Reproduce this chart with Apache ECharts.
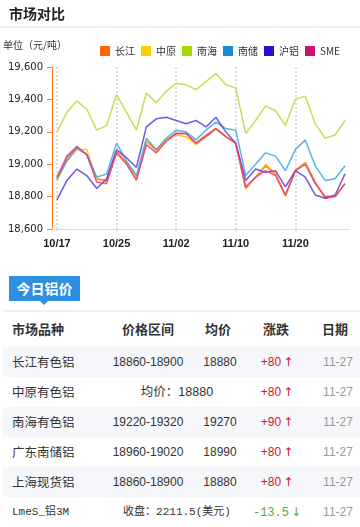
<!DOCTYPE html>
<html>
<head>
<meta charset="utf-8">
<script src="https://cdn.jsdelivr.net/npm/echarts@6/dist/echarts.min.js"></script>
<style>
html,body{margin:0;padding:0;background:#fff;}
#wrap{position:relative;width:360px;height:527px;overflow:hidden;background:#fff;font-family:"Noto Sans CJK SC",sans-serif;}
#chart{position:absolute;left:0;top:0;width:360px;height:268px;}
.abs{position:absolute;white-space:nowrap;}
.c{transform:translateX(-50%);}
</style>
</head>
<body>
<div id="wrap">
  <div id="chart"></div>
  <div id="table"></div>
</div>
<script>
// ---- chart data ----
const dates = ['10/17','10/18','10/19','10/20','10/23','10/24','10/25','10/26','10/27','10/30','10/31','11/01','11/02','11/03','11/06','11/07','11/08','11/09','11/10','11/13','11/14','11/15','11/16','11/17','11/20','11/21','11/22','11/23','11/24','11/27'];
const seriesNames = ['长江','中原','南海','南储','沪铝','SME'];
const changjiang = [18910,19040,19100,19060,18910,18900,19080,19010,18910,19140,19090,19150,19190,19190,19130,19180,19220,19170,19130,18850,18920,18990,18940,18810,18960,19010,18890,18790,18800,18880];
const zhongyuan  = [18900,19020,19090,19090,18910,18890,19080,19010,18910,19140,19080,19150,19180,19170,19120,19170,19220,19170,19130,18850,18920,19000,18940,18800,18960,19010,18880,18800,18800,18880];
const nanhai     = [19200,19320,19390,19340,19210,19240,19430,19320,19210,19440,19380,19450,19500,19490,19460,19510,19560,19490,19470,19190,19270,19360,19330,19240,19400,19420,19250,19160,19180,19270];
const nanchu     = [18910,19020,19100,19060,18920,18940,19130,19020,18930,19160,19090,19160,19210,19200,19150,19210,19260,19220,19210,18930,19000,19070,19050,18960,19090,19150,18990,18900,18910,18990];
const hulv       = [18780,18900,18970,18930,18850,18910,19090,19040,18980,19230,19280,19290,19270,19250,19270,19230,19290,19200,19130,18900,18970,18950,18960,18860,18960,18920,18810,18790,18810,18940];
const sme        = [18920,19050,19110,19060,18890,18880,19070,19000,18900,19120,19070,19140,19190,19190,19130,19170,19220,19170,19130,18860,18920,18960,18930,18810,18960,19000,18880,18800,18800,18880];
const yTicks = [18600,18800,19000,19200,19400,19600];

// ---- table data ----
const headers = ['市场品种','价格区间','均价','涨跌','日期'];
const markets = ['长江有色铝','中原有色铝','南海有色铝','广东南储铝','上海现货铝','LmeS_铝3M'];
const ranges  = ['18860-18900','均价：18880','19220-19320','18960-19020','18860-18900','收盘：2211.5(美元)'];
const avgs    = ['18880','','19270','18990','18880',''];
const changes = ['+80','+80','+90','+80','+80','-13.5'];
const dirs    = ['up','up','up','up','up','down'];
const tdates  = ['11-27','11-27','11-27','11-27','11-27','11-27'];

const legendColors = ['#ff6600','#ffcc00','#a8d800','#1a8ad6','#2a10d0','#cc1170'];
const lineColors   = ['#ff4a1a','#ffc000','#b4dc36','#3aa6e6','#5a3ae0','#e23a86'];
const allData = [changjiang, zhongyuan, nanhai, nanchu, hulv, sme];

const chart = echarts.init(document.getElementById('chart'));
const H = 268;
chart.setOption({
  animation:false,
  title:{text:'市场对比', left:4, top:2, textStyle:{fontSize:14, fontWeight:'bold', color:'#222', fontFamily:'Noto Sans CJK SC'}},
  graphic:[
    {type:'rect', shape:{x:0,y:26,width:360,height:1.5}, style:{fill:'#eeeeee'}},
    {type:'text', left:3, top:40, style:{text:'单位（元/吨）', fontSize:10, fill:'#333', fontFamily:'Noto Sans CJK SC'}}
  ],
  legend:{data:seriesNames, left:95, top:41, icon:'rect', itemWidth:10, itemHeight:10, itemGap:6,
    textStyle:{fontSize:10, color:'#333', fontFamily:'Noto Sans CJK SC'}},
  grid:{left:52, right:10, top:67, bottom:H-229},
  xAxis:{type:'category', data:dates, boundaryGap:true,
    axisLine:{lineStyle:{color:'#dddddd', width:1}},
    axisTick:{show:true, alignWithLabel:true, interval:5, length:4, lineStyle:{color:'#dddddd', type:'dotted', width:2}},
    axisLabel:{interval:5, margin:9, color:'#222', fontSize:11, fontWeight:'bold', fontFamily:'Liberation Sans'},
    splitLine:{show:true, interval:5, alignWithLabel:true, lineStyle:{color:'#dddddd', type:'dotted', width:2}}
  },
  yAxis:{type:'value', min:yTicks[0], max:yTicks[yTicks.length-1], interval:200,
    axisLine:{show:true, lineStyle:{color:'#ff7a1a'}},
    axisTick:{show:true, length:5, lineStyle:{color:'#ff7a1a'}},
    splitLine:{show:false},
    axisLabel:{margin:9, color:'#222', fontSize:10, fontFamily:'DejaVu Sans', formatter:v=>v.toLocaleString('en-US')}
  },
  series: seriesNames.map((n,i)=>({
    name:n, type:'line', data:allData[i], symbol:'none', smooth:false,
    itemStyle:{color:legendColors[i]},
    lineStyle:{color:lineColors[i], width:1.5, opacity:0.85}
  }))
});

// ---- table ----
const t = document.getElementById('table');
let html = '';
html += '<div class="abs" style="left:9px;top:276px;width:71px;height:25px;background:#2d8fe1;color:#fff;font-weight:bold;font-size:14px;line-height:25px;text-align:center;">今日铝价</div>';
html += '<div class="abs" style="left:40px;top:301px;width:0;height:0;border-left:4px solid transparent;border-right:4px solid transparent;border-top:4px solid #2d8fe1;"></div>';
html += '<div class="abs" style="left:3px;top:310px;width:357px;height:2px;background:#eff1f5;"></div>';
const hx = [null,148,218,276,335];
const hy = 329;
headers.forEach((h,i)=>{
  const style = 'top:'+(hy-10)+'px;font-size:13px;font-weight:bold;color:#333;line-height:20px;';
  if(i===0) html += '<div class="abs" style="left:12px;'+style+'">'+h+'</div>';
  else html += '<div class="abs c" style="left:'+hx[i]+'px;'+style+'">'+h+'</div>';
});
markets.forEach((m,r)=>{
  const top = 347 + r*30;
  if(r%2===0) html += '<div class="abs" style="left:3px;top:'+top+'px;width:357px;height:30px;background:#f6f7fa;"></div>';
  const cy = top + 15;
  const lme = (r===5);
  const nameFont = lme ? 'font-family:\'Liberation Mono\',\'Noto Sans CJK SC\';font-size:11px;' : 'font-size:12.5px;';
  html += '<div class="abs" style="left:12px;top:'+(cy-10)+'px;line-height:20px;color:#333;'+nameFont+'">'+m+'</div>';
  const numFont = 'font-family:\'Liberation Sans\',\'Noto Sans CJK SC\';font-size:12px;';
  if(avgs[r]===''){
    const f = lme ? 'font-family:\'Liberation Mono\',\'Noto Sans CJK SC\';font-size:11px;' : 'font-family:\'Liberation Sans\',\'Noto Sans CJK SC\';font-size:12.5px;';
    html += '<div class="abs c" style="left:177px;top:'+(cy-10)+'px;line-height:20px;color:#333;'+f+'">'+ranges[r]+'</div>';
  } else {
    html += '<div class="abs c" style="left:148px;top:'+(cy-10)+'px;line-height:20px;color:#333;'+numFont+'">'+ranges[r]+'</div>';
    html += '<div class="abs c" style="left:220px;top:'+(cy-10)+'px;line-height:20px;color:#333;'+numFont+'">'+avgs[r]+'</div>';
  }
  const up = dirs[r]==='up';
  const col = up ? '#d4142e' : '#5aa83a';
  const arrow = up ? '↑' : '↓';
  const chFont = lme ? 'font-family:\'Liberation Mono\';font-size:12px;' : numFont;
  html += '<div class="abs c" style="left:277px;top:'+(cy-10)+'px;line-height:20px;color:'+col+';'+chFont+'">'+changes[r]+'<span style="font-family:\'DejaVu Sans\';font-size:12px;margin-left:2px;">'+arrow+'</span></div>';
  html += '<div class="abs c" style="left:338px;top:'+(cy-10)+'px;line-height:20px;color:#999;'+numFont+'">'+tdates[r]+'</div>';
});
t.innerHTML = html;
</script>
</body>
</html>
